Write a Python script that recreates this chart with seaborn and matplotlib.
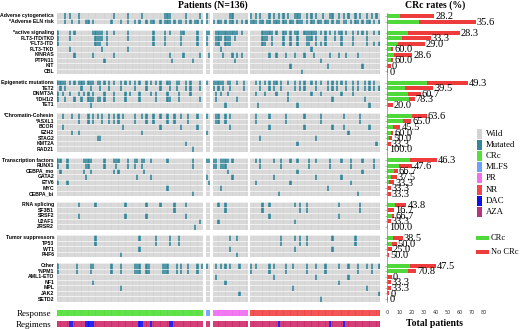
import numpy as np
import pandas as pd
import matplotlib
matplotlib.use('Agg')
import matplotlib.pyplot as plt
import seaborn as sns
from matplotlib.colors import ListedColormap
from matplotlib.patches import Rectangle

# patient groups by response (left to right)
n_crc, n_mlfs, n_pr, n_nr = 63, 2, 15, 56

# gene rows, '' = blank spacer row between groups
row_labels = ['*Adverse cytogenetics', '*Adverse ELN risk', '',
              '*active signaling', 'FLT3-ITD/TKD', '*FLT3-ITD', 'FLT3-TKD', 'K/NRAS', 'PTPN11', 'KIT', 'CBL', '',
              'Epigenetic mutations', 'TET2', 'DNMT3A', '*IDH1/2', 'TET1', '',
              '*Chromatin-Cohesin', '*ASXL1', 'BCOR', 'EZH2', 'STAG2', 'KMT2A', 'RAD21', '',
              'Transcription factors', 'RUNX1', 'CEBPA_mo', 'GATA2', 'ETV6', 'MYC', 'CEBPA_bi', '',
              'RNA splicing', 'SF3B1', 'SRSF2', 'U2AF1', 'ZRSR2', '',
              'Tumor suppressors', 'TP53', 'WT1', 'PHF6', '',
              'Other', '*NPM1', 'AML1-ETO', 'NF1', 'MPL', 'JAK2', 'SETD2']

# total mutated patients and CRc patients per row (None = spacer)
totals = [39, 73, None, 60, 36, 31, 5, 21, 5, 3, 1, None, 67, 38, 28, 23, 5, None,
          33, 20, 11, 5, 4, 3, 1, None, 41, 21, 9, 8, 6, 3, 3, None,
          16, 6, 6, 3, 1, None, 13, 8, 4, 2, None, 40, 24, 4, 3, 3, 2, 1]
crc = [11, 26, None, 17, 12, 9, 3, 6, 3, 0, 0, None, 33, 15, 17, 18, 1, None,
       21, 13, 5, 3, 2, 1, 1, None, 19, 10, 6, 3, 2, 1, 1, None,
       7, 1, 4, 1, 1, None, 5, 4, 1, 1, None, 19, 17, 0, 1, 1, 0, 0]

# mutated patient indices per row (0-62 CRc, 63-64 MLFS, 65-79 PR, 80-135 NR)
mutated = [
    [3, 5, 9, 24, 30, 36, 46, 47, 48, 55, 61, 63, 72, 73, 80, 82, 84, 88, 90, 92, 94, 96, 99, 100,
     101, 104, 106, 108, 111, 114, 115, 118, 120, 122, 125, 127, 130, 132, 134],
    [3, 6, 9, 12, 13, 15, 23, 27, 30, 33, 35, 38, 40, 41, 44, 46, 47, 48, 50, 52, 53, 55, 57, 59, 60, 62,
     63, 65, 67, 68, 70, 72, 73, 75, 77, 79, 80, 81, 82, 84, 85, 87, 88, 90, 91, 92, 94, 95, 97, 98, 100,
     101, 102, 104, 106, 107, 109, 110, 112, 113, 115, 117, 118, 120, 121, 123, 125, 126, 128, 130, 131, 133, 135],
    None,
    [0, 5, 7, 15, 16, 17, 18, 19, 21, 24, 30, 41, 46, 48, 53, 54, 60, 63, 64, 66, 67, 68, 69, 70, 71, 72,
     73, 74, 75, 77, 85, 86, 87, 88, 89, 91, 94, 95, 97, 99, 100, 103, 104, 105, 106, 107, 108, 110, 112,
     114, 116, 118, 119, 121, 124, 126, 128, 130, 133, 135],
    [0, 5, 16, 17, 18, 19, 21, 30, 41, 46, 53, 60, 63, 66, 67, 68, 70, 71, 72, 74, 85, 86, 87, 89, 94, 97,
     100, 104, 105, 106, 108, 112, 116, 119, 124, 130],
    [0, 16, 17, 18, 21, 41, 46, 53, 60, 63, 66, 67, 70, 71, 72, 85, 86, 89, 94, 97, 100, 104, 105, 108,
     110, 112, 119, 124, 130, 133, 135],
    [5, 19, 30, 68, 106],
    [7, 15, 24, 48, 54, 61, 64, 69, 73, 75, 77, 88, 91, 95, 99, 103, 107, 114, 118, 121, 126],
    [20, 49, 58, 74, 110],
    [97, 113, 128],
    [102],
    None,
    [0, 1, 2, 3, 5, 7, 9, 10, 11, 13, 14, 15, 17, 18, 20, 22, 24, 27, 29, 31, 33, 35, 38, 40, 42, 44, 47,
     48, 51, 52, 55, 57, 61, 63, 65, 66, 67, 68, 69, 71, 72, 75, 78, 82, 84, 86, 88, 90, 91, 93, 96, 99,
     101, 103, 106, 108, 110, 113, 115, 117, 119, 121, 124, 126, 129, 131, 133],
    [1, 3, 10, 14, 18, 22, 27, 33, 38, 44, 48, 51, 55, 57, 61, 65, 67, 69, 72, 78, 84, 88, 90, 93, 99,
     101, 103, 108, 113, 115, 117, 121, 124, 126, 129, 131, 133, 135],
    [0, 2, 5, 9, 11, 13, 15, 20, 24, 29, 31, 35, 40, 42, 47, 52, 57, 66, 68, 71, 82, 86, 91, 96, 106,
     110, 119, 124],
    [0, 3, 7, 10, 13, 14, 15, 17, 18, 20, 24, 29, 35, 42, 47, 48, 52, 61, 66, 75, 96, 115, 129],
    [14, 70, 83, 100, 131],
    None,
    [2, 6, 9, 13, 15, 17, 19, 22, 24, 26, 28, 33, 36, 38, 41, 44, 47, 50, 53, 56, 60, 63, 66, 67, 70, 72,
     82, 88, 95, 103, 110, 120, 127],
    [9, 13, 15, 19, 22, 24, 26, 33, 38, 41, 47, 50, 56, 66, 67, 70, 82, 95, 110, 127],
    [2, 28, 44, 53, 60, 72, 88, 103, 115, 120, 131],
    [6, 9, 36, 63, 122],
    [17, 18, 84, 108],
    [55, 100, 134],
    [58],
    None,
    [0, 1, 4, 11, 12, 13, 14, 20, 24, 25, 26, 30, 33, 34, 36, 37, 40, 47, 58, 63, 64, 65, 66, 68, 69, 70,
     71, 73, 82, 84, 90, 93, 97, 100, 105, 108, 114, 119, 123, 128, 133],
    [0, 4, 12, 13, 20, 25, 30, 33, 36, 58, 65, 66, 68, 69, 70, 84, 93, 105, 114, 123, 133],
    [1, 11, 14, 24, 26, 37, 71, 100, 128],
    [12, 34, 40, 63, 73, 90, 108, 119],
    [0, 4, 64, 82, 97, 123],
    [47, 68, 113],
    [58, 92, 126],
    None,
    [9, 16, 29, 38, 44, 50, 55, 67, 70, 85, 88, 99, 101, 104, 118, 127],
    [50, 70, 85, 101, 104, 127],
    [9, 29, 38, 55, 88, 118],
    [61, 67, 99],
    [59],
    None,
    [16, 35, 42, 48, 52, 72, 75, 93, 99, 101, 104, 115, 125],
    [16, 42, 48, 52, 93, 101, 104, 125],
    [35, 72, 99, 115],
    [27, 75],
    None,
    [0, 8, 14, 15, 23, 27, 33, 34, 35, 38, 39, 45, 46, 47, 51, 53, 56, 60, 62, 63, 66, 68, 70, 72, 76, 80,
     82, 88, 90, 95, 98, 104, 108, 112, 118, 122, 126, 130, 132, 135],
    [0, 8, 14, 23, 27, 33, 34, 35, 38, 39, 45, 46, 47, 51, 53, 56, 60, 80, 88, 95, 104, 112, 126, 132],
    [66, 90, 108, 122],
    [15, 70, 118],
    [27, 98, 130],
    [76, 135],
    [110],
]

# patients treated with DAC (all others AZA)
dac_patients = [5, 6, 12, 13, 14, 15, 35, 36, 40, 48, 49, 92, 114, 120]

wild_c, mut_c = '#d3d3d3', '#34869a'
resp_colors = ['#55e03a', '#6fa0ff', '#f06ef0', '#f04646']
aza_c, dac_c = '#cf2c6c', '#1010ee'
bar_green, bar_red = '#4fd83a', '#ee3b3b'

n_pat = n_crc + n_mlfs + n_pr + n_nr
b1, b2, b3 = n_crc, n_crc + n_mlfs, n_crc + n_mlfs + n_pr


def col(i):
    return i + (i >= b1) + (i >= b2) + (i >= b3)


n_cols = n_pat + 3
n_rows = len(row_labels)
mat = np.full((n_rows, n_cols), np.nan)
for r, idx in enumerate(mutated):
    if idx is None:
        continue
    for i in range(n_pat):
        mat[r, col(i)] = 0
    for i in idx:
        mat[r, col(i)] = 1

resp = np.full((1, n_cols), np.nan)
reg = np.full((1, n_cols), np.nan)
for i in range(n_pat):
    resp[0, col(i)] = 0 if i < b1 else (1 if i < b2 else (2 if i < b3 else 3))
    reg[0, col(i)] = 1 if i in dac_patients else 0

W, H = 520, 329
fig = plt.figure(figsize=(W / 100, H / 100), dpi=100)
serif = 'Liberation Serif'


def box(x0, y0, x1, y1):
    return [x0 / W, 1 - y1 / H, (x1 - x0) / W, (y1 - y0) / H]


def cell_lines(a, nr, alpha=0.7):
    # faint white separators between cells
    a.vlines(np.arange(1, n_cols), 0, nr, color='white', linewidth=0.3, alpha=alpha)
    if nr > 1:
        a.hlines(np.arange(1, nr), 0, n_cols, color='white', linewidth=0.5, alpha=0.9)


ax = fig.add_axes(box(57, 13.2, 380, 301.8))
sns.heatmap(pd.DataFrame(mat), ax=ax, cmap=ListedColormap([wild_c, mut_c]), vmin=0, vmax=1,
            cbar=False, linewidths=0, xticklabels=False, yticklabels=row_labels)
cell_lines(ax, n_rows)
ax.set_yticklabels(row_labels, fontsize=3.7, family='Liberation Sans', fontweight='bold')
ax.tick_params(axis='y', length=0, pad=2)
ax.set_xlabel('')
ax.set_ylabel('')

ax_r = fig.add_axes(box(57, 309.8, 380, 315.6))
sns.heatmap(pd.DataFrame(resp), ax=ax_r, cmap=ListedColormap(resp_colors), vmin=-0.5, vmax=3.5,
            cbar=False, linewidths=0, xticklabels=False, yticklabels=False)
cell_lines(ax_r, 1, alpha=0.4)
ax_r.set_yticks([0.5])
ax_r.set_yticklabels(['Response'], fontsize=6.5, family=serif, rotation=0)
ax_r.tick_params(axis='y', length=0, pad=4)

ax_g = fig.add_axes(box(57, 321.2, 380, 326.8))
sns.heatmap(pd.DataFrame(reg), ax=ax_g, cmap=ListedColormap([aza_c, dac_c]), vmin=-0.5, vmax=1.5,
            cbar=False, linewidths=0, xticklabels=False, yticklabels=False)
cell_lines(ax_g, 1, alpha=0.45)
ax_g.set_yticks([0.5])
ax_g.set_yticklabels(['Regimens'], fontsize=6.5, family=serif, rotation=0)
ax_g.tick_params(axis='y', length=0, pad=4)

# stacked CRc bars
axb = fig.add_axes(box(387, 13.2, 484, 301.8))
ys = [r + 0.5 for r in range(n_rows) if totals[r] is not None]
tot = [t for t in totals if t is not None]
cr = [c for c in crc if c is not None]
axb.barh(ys, tot, height=0.72, color=bar_red, linewidth=0)
axb.barh(ys, cr, height=0.72, color=bar_green, linewidth=0)
for y, t, c in zip(ys, tot, cr):
    lab = '0' if c == 0 else f'{100 * c / t:.1f}'
    axb.text(t + 0.8, y + 0.1, lab, fontsize=7.5, family=serif, va='center', ha='left', clip_on=False)
axb.set_xlim(0, 80)
axb.set_ylim(n_rows, 0)
axb.set_xticks(range(0, 81, 10))
axb.set_xticklabels([str(v) for v in range(0, 81, 10)], fontsize=3.5, color='#333333')
axb.set_yticks(ys)
axb.set_yticklabels([])
axb.tick_params(axis='y', length=1.2, width=0.4, color='#888888')
axb.tick_params(axis='x', length=0, pad=6)
for s in ['top', 'right', 'bottom']:
    axb.spines[s].set_visible(False)
axb.spines['left'].set_color('#888888')
axb.spines['left'].set_linewidth(0.5)
axb.set_facecolor('none')

fig.text(213 / W, 1 - 5.5 / H, 'Patients (N=136)', fontsize=7, family=serif, fontweight='bold',
         ha='center', va='center')
fig.text(435 / W, 1 - 5.5 / H, 'CRc rates (%)', fontsize=7, family=serif, fontweight='bold',
         ha='center', va='center')
fig.text(434 / W, 1 - 323 / H, 'Total patients', fontsize=7, family=serif, fontweight='bold',
         ha='center', va='center')

# legends
leg1 = ['Wild', 'Mutated', 'CRc', 'MLFS', 'PR', 'NR', 'DAC', 'AZA']
leg1_c = [wild_c, mut_c] + resp_colors + [dac_c, '#b8337e']
for k, (lab, c) in enumerate(zip(leg1, leg1_c)):
    yc = 134 + k * 11.1
    fig.add_artist(Rectangle((477 / W, 1 - (yc + 5) / H), 5 / W, 10 / H, transform=fig.transFigure,
                             facecolor=c, edgecolor='none'))
    fig.text(486 / W, 1 - yc / H, lab, fontsize=6.3, family=serif, va='center', ha='left')
for k, (lab, c) in enumerate(zip(['CRc', 'No CRc'], [bar_green, bar_red])):
    yc = 238 + k * 14
    fig.add_artist(Rectangle((476 / W, 1 - (yc + 2) / H), 13 / W, 4 / H, transform=fig.transFigure,
                             facecolor=c, edgecolor='none'))
    fig.text(491 / W, 1 - yc / H, lab, fontsize=6.0, family=serif, va='center', ha='left')

fig.savefig('out.png', dpi=100)
